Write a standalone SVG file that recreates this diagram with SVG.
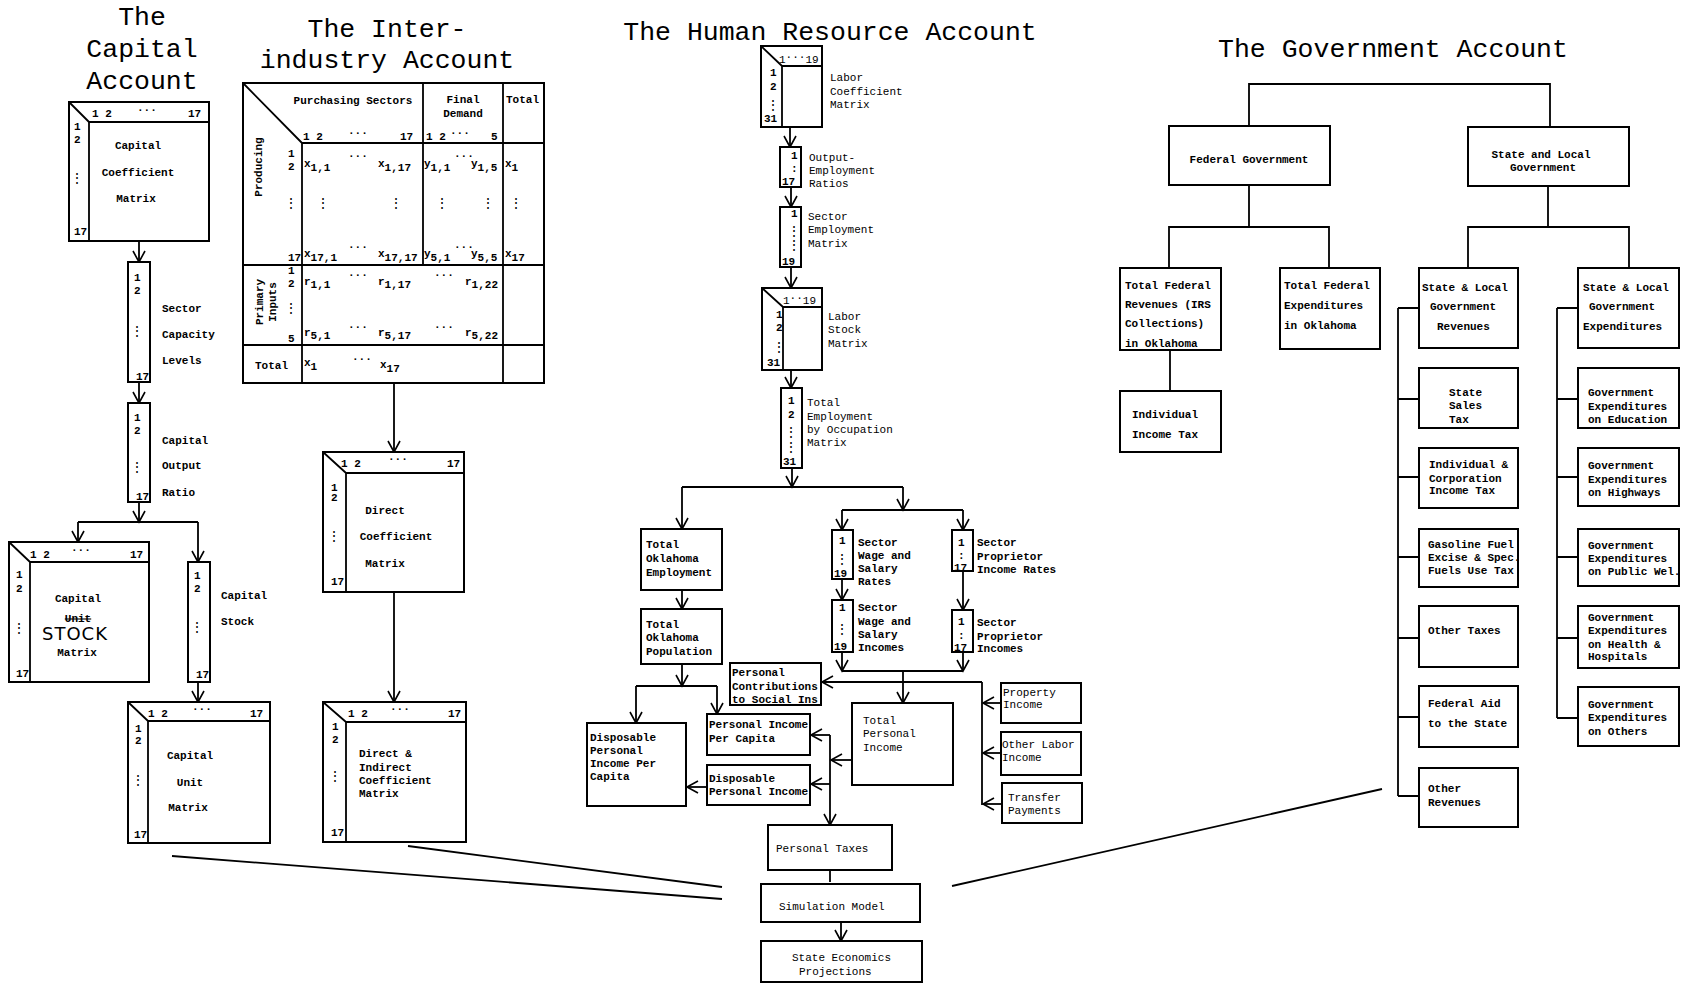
<svg xmlns="http://www.w3.org/2000/svg" width="1688" height="984" viewBox="0 0 1688 984">
<defs>
<marker id="ah" markerWidth="14" markerHeight="14" refX="12" refY="7" orient="auto" markerUnits="userSpaceOnUse" viewBox="0 0 14 14"><path d="M1,1 L12,7 L1,13" fill="none" stroke="#000" stroke-width="1.6"/></marker>
</defs>
<style>
text{font-family:"Liberation Mono","Courier New",monospace;font-size:11px;font-weight:bold;fill:#000}
.r{font-weight:normal}
.ti{font-size:26.5px;font-weight:normal;text-anchor:middle}
.m{text-anchor:middle}
.vd{font-family:"DejaVu Sans Mono",monospace;font-size:14px;font-weight:normal;text-anchor:middle}
.box{fill:#fff;stroke:#000;stroke-width:2}
.ln{fill:none;stroke:#000;stroke-width:1.8}
.ar{fill:none;stroke:#000;stroke-width:1.8;marker-end:url(#ah)}
</style>
<rect width="1688" height="984" fill="#fff"/>

<!-- Titles -->
<g id="titles">
<text class="ti" x="142" y="25">The</text>
<text class="ti" x="142" y="57">Capital</text>
<text class="ti" x="142" y="89">Account</text>
<text class="ti" x="387" y="37">The Inter-</text>
<text class="ti" x="387" y="68">industry Account</text>
<text class="ti" x="830" y="40">The Human Resource Account</text>
<text class="ti" x="1393" y="57">The Government Account</text>
</g>

<!-- Connectors -->
<g id="connectors">
<path class="ar" d="M139,241 V262"/>
<path class="ar" d="M139,382 V403"/>
<path class="ar" d="M139,502 V522"/>
<path class="ln" d="M78,522 H198"/>
<path class="ar" d="M78,522 V542"/>
<path class="ar" d="M198,522 V562"/>
<path class="ar" d="M198,682 V702"/>
<path class="ar" d="M394,383 V452"/>
<path class="ar" d="M394,592 V702"/>
<path class="ar" d="M790,127 V147"/>
<path class="ar" d="M791,187 V207"/>
<path class="ar" d="M791,267 V288"/>
<path class="ar" d="M791,370 V388"/>
<path class="ar" d="M792,468 V487"/>
<path class="ln" d="M682,487 H903"/>
<path class="ar" d="M682,487 V529"/>
<path class="ar" d="M903,487 V510"/>
<path class="ln" d="M842,510 H963"/>
<path class="ar" d="M842,510 V530"/>
<path class="ar" d="M963,510 V530"/>
<path class="ar" d="M682,590 V609"/>
<path class="ar" d="M842,579 V600"/>
<path class="ar" d="M963,571 V610"/>
<path class="ar" d="M842,652 V671"/>
<path class="ar" d="M963,652 V671"/>
<path class="ln" d="M842,671 H963"/>
<path class="ar" d="M903,671 V703"/>
<path class="ln" d="M982,682 V805"/>
<path class="ar" d="M982,682 H822"/>
<path class="ar" d="M1001,703 H983"/>
<path class="ar" d="M1001,753 H983"/>
<path class="ar" d="M1002,804 H983"/>
<path class="ar" d="M682,664 V686"/>
<path class="ln" d="M636,686 H717"/>
<path class="ar" d="M636,686 V723"/>
<path class="ar" d="M717,686 V714"/>
<path class="ar" d="M852,760 H831"/>
<path class="ar" d="M830,735 V825"/>
<path class="ar" d="M830,735 H811"/>
<path class="ar" d="M830,784 H811"/>
<path class="ar" d="M707,787 H687"/>
<path class="ln" d="M830,870 V882"/>
<path class="ar" d="M841,922 V941"/>
<path class="ln" d="M172,856 L722,899"/>
<path class="ln" d="M408,846 L722,887"/>
<path class="ln" d="M1382,789 L952,886"/>
<path class="ln" d="M1249,126 V84 H1550 V127"/>
<path class="ln" d="M1249,185 V227 M1169,268 V227 H1329 V268"/>
<path class="ln" d="M1548,186 V227 M1468,268 V227 H1629 V268"/>
<path class="ln" d="M1170,350 V391"/>
<path class="ln" d="M1398,308 V796 M1398,308 H1419 M1398,399 H1419 M1398,477 H1419 M1398,557 H1419 M1398,638 H1419 M1398,717 H1419 M1398,796 H1419"/>
<path class="ln" d="M1557,308 V718 M1557,308 H1578 M1557,399 H1578 M1557,477 H1578 M1557,557 H1578 M1557,638 H1578 M1557,718 H1578"/>
</g>

<!-- Capital Account -->
<g id="cap-coef">
<rect class="box" x="69" y="102" width="140" height="139"/>
<path class="ln" d="M89,122 V241 M89,122 H209 M69,102 L89,122"/>
<text x="92" y="117">1 2</text><text x="137" y="111">...</text><text x="188" y="117">17</text>
<text x="74" y="130">1</text><text x="74" y="143">2</text><text class="vd" x="77" y="183">⋮</text><text x="74" y="235">17</text>
<text class="m" x="138" y="149">Capital</text><text class="m" x="138" y="176">Coefficient</text><text class="m" x="136" y="202">Matrix</text>
</g>
<g id="cap-capacity">
<rect class="box" x="128" y="262" width="22" height="120"/>
<text x="134" y="281">1</text><text x="134" y="294">2</text><text class="vd" x="137" y="336">⋮</text><text x="136" y="380">17</text>
<text x="162" y="312">Sector</text><text x="162" y="338">Capacity</text><text x="162" y="364">Levels</text>
</g>
<g id="cap-output">
<rect class="box" x="128" y="403" width="22" height="99"/>
<text x="134" y="421">1</text><text x="134" y="434">2</text><text class="vd" x="137" y="472">⋮</text><text x="136" y="500">17</text>
<text x="162" y="444">Capital</text><text x="162" y="469">Output</text><text x="162" y="496">Ratio</text>
</g>
<g id="cap-stock-matrix">
<rect class="box" x="9" y="542" width="140" height="140"/>
<path class="ln" d="M30,562 V682 M30,562 H149 M9,542 L30,562"/>
<text x="30" y="558">1 2</text><text x="71" y="551">...</text><text x="130" y="558">17</text>
<text x="16" y="578">1</text><text x="16" y="592">2</text><text class="vd" x="19" y="633">⋮</text><text x="16" y="677">17</text>
<text class="m" x="78" y="602">Capital</text>
<text class="m" x="78" y="622" style="text-decoration:line-through">Unit</text>
<text class="m" x="75" y="640" style="font-family:'DejaVu Sans',sans-serif;font-size:18px;font-weight:normal;letter-spacing:1px">STOCK</text>
<text class="m" x="77" y="656">Matrix</text>
</g>
<g id="cap-stock">
<rect class="box" x="188" y="562" width="22" height="120"/>
<text x="194" y="579">1</text><text x="194" y="592">2</text><text class="vd" x="197" y="632">⋮</text><text x="196" y="678">17</text>
<text x="221" y="599">Capital</text><text x="221" y="625">Stock</text>
</g>
<g id="cap-unit">
<rect class="box" x="128" y="702" width="142" height="141"/>
<path class="ln" d="M148,721 V843 M148,721 H270 M128,702 L148,721"/>
<text x="148" y="717">1 2</text><text x="192" y="710">...</text><text x="250" y="717">17</text>
<text x="135" y="732">1</text><text x="135" y="744">2</text><text class="vd" x="138" y="785">⋮</text><text x="134" y="838">17</text>
<text class="m" x="190" y="759">Capital</text><text class="m" x="190" y="786">Unit</text><text class="m" x="188" y="811">Matrix</text>
</g>

<!-- Inter-industry Account -->
<g id="io-table">
<rect class="box" x="243" y="83" width="301" height="300"/>
<path class="ln" d="M302,143 V383 M423,83 V265 M503,83 V383 M302,143 H544 M243,265 H544 M243,345 H544 M243,83 L302,143"/>
<text class="m" x="353" y="104">Purchasing Sectors</text>
<text class="m" x="463" y="103">Final</text><text class="m" x="463" y="117">Demand</text>
<text x="506" y="103">Total</text>
<text x="303" y="140">1 2</text><text x="348" y="134">...</text><text x="400" y="140">17</text>
<text x="426" y="140">1 2</text><text x="450" y="134">...</text><text x="491" y="140">5</text>
<text class="m" transform="translate(262,167) rotate(-90)">Producing</text>
<text class="m" transform="translate(263,302) rotate(-90)">Primary</text>
<text class="m" transform="translate(276,302) rotate(-90)">Inputs</text>
<text x="288" y="157">1</text><text x="288" y="170">2</text><text class="vd" x="291" y="208">⋮</text><text x="288" y="261">17</text>
<text x="304" y="167">x<tspan dy="4">1,1</tspan></text><text x="348" y="157">...</text><text x="378" y="167">x<tspan dy="4">1,17</tspan></text>
<text x="424" y="167">y<tspan dy="4">1,1</tspan></text><text x="454" y="157">...</text><text x="471" y="167">y<tspan dy="4">1,5</tspan></text>
<text x="505" y="167">x<tspan dy="4">1</tspan></text>
<text class="vd" x="323" y="208">⋮</text><text class="vd" x="396" y="208">⋮</text><text class="vd" x="442" y="208">⋮</text><text class="vd" x="488" y="208">⋮</text><text class="vd" x="516" y="208">⋮</text>
<text x="304" y="257">x<tspan dy="4">17,1</tspan></text><text x="348" y="248">...</text><text x="378" y="257">x<tspan dy="4">17,17</tspan></text>
<text x="424" y="257">y<tspan dy="4">5,1</tspan></text><text x="454" y="248">...</text><text x="471" y="257">y<tspan dy="4">5,5</tspan></text>
<text x="505" y="257">x<tspan dy="4">17</tspan></text>
<text x="288" y="274">1</text><text x="288" y="287">2</text><text class="vd" x="291" y="313">⋮</text><text x="288" y="342">5</text>
<text x="304" y="285">r<tspan dy="3">1,1</tspan></text><text x="348" y="276">...</text><text x="378" y="285">r<tspan dy="3">1,17</tspan></text>
<text x="434" y="276">...</text><text x="465" y="285">r<tspan dy="3">1,22</tspan></text>
<text x="304" y="336">r<tspan dy="3">5,1</tspan></text><text x="348" y="328">...</text><text x="378" y="336">r<tspan dy="3">5,17</tspan></text>
<text x="434" y="328">...</text><text x="465" y="336">r<tspan dy="3">5,22</tspan></text>
<text x="255" y="369">Total</text>
<text x="304" y="366">x<tspan dy="4">1</tspan></text><text x="352" y="360">...</text><text x="380" y="368">x<tspan dy="4">17</tspan></text>
</g>
<g id="io-direct">
<rect class="box" x="323" y="452" width="141" height="140"/>
<path class="ln" d="M346,473 V592 M346,473 H464 M323,452 L346,473"/>
<text x="341" y="467">1 2</text><text x="388" y="460">...</text><text x="447" y="467">17</text>
<text x="331" y="491">1</text><text x="331" y="501">2</text><text class="vd" x="334" y="541">⋮</text><text x="331" y="585">17</text>
<text class="m" x="385" y="514">Direct</text><text class="m" x="396" y="540">Coefficient</text><text class="m" x="385" y="567">Matrix</text>
</g>
<g id="io-total">
<rect class="box" x="323" y="702" width="143" height="140"/>
<path class="ln" d="M346,722 V842 M346,722 H466 M323,702 L346,722"/>
<text x="348" y="717">1 2</text><text x="390" y="710">...</text><text x="448" y="717">17</text>
<text x="332" y="730">1</text><text x="332" y="743">2</text><text class="vd" x="335" y="781">⋮</text><text x="331" y="836">17</text>
<text x="359" y="757">Direct &amp;</text><text x="359" y="771">Indirect</text><text x="359" y="784">Coefficient</text><text x="359" y="797">Matrix</text>
</g>

<!-- Human Resource Account -->
<g id="hr-labor-coef">
<rect class="box" x="761" y="46" width="61" height="81"/>
<path class="ln" d="M782,66 V127 M782,66 H822 M761,46 L782,66"/>
<text class="r" x="779" y="63">1<tspan dy="-5">...</tspan><tspan dy="5">19</tspan></text>
<text x="770" y="76">1</text><text x="770" y="90">2</text><text class="vd" x="773" y="110">⋮</text><text x="764" y="122">31</text>
<text class="r" x="830" y="81">Labor</text><text class="r" x="830" y="95">Coefficient</text><text class="r" x="830" y="108">Matrix</text>
</g>
<g id="hr-oer">
<rect class="box" x="780" y="147" width="21" height="40"/>
<text x="791" y="159">1</text><text x="791" y="172">:</text><text x="782" y="185">17</text>
<text class="r" x="809" y="161">Output-</text><text class="r" x="809" y="174">Employment</text><text class="r" x="809" y="187">Ratios</text>
</g>
<g id="hr-sem">
<rect class="box" x="780" y="207" width="21" height="60"/>
<text x="791" y="217">1</text><text class="vd" x="794" y="236">⋮</text><text class="vd" x="794" y="250">⋮</text><text x="782" y="265">19</text>
<text class="r" x="808" y="220">Sector</text><text class="r" x="808" y="233">Employment</text><text class="r" x="808" y="247">Matrix</text>
</g>
<g id="hr-labor-stock">
<rect class="box" x="762" y="288" width="60" height="82"/>
<path class="ln" d="M783,307 V370 M783,307 H822 M762,288 L783,307"/>
<text class="r" x="783" y="304">1<tspan dy="-5">..</tspan><tspan dy="5">19</tspan></text>
<text x="776" y="318">1</text><text x="776" y="331">2</text><text class="vd" x="779" y="352">⋮</text><text x="767" y="366">31</text>
<text class="r" x="828" y="320">Labor</text><text class="r" x="828" y="333">Stock</text><text class="r" x="828" y="347">Matrix</text>
</g>
<g id="hr-teo">
<rect class="box" x="781" y="388" width="21" height="80"/>
<text x="788" y="404">1</text><text x="788" y="418">2</text><text class="vd" x="791" y="437">⋮</text><text class="vd" x="791" y="452">⋮</text><text x="783" y="465">31</text>
<text class="r" x="807" y="406">Total</text><text class="r" x="807" y="420">Employment</text><text class="r" x="807" y="433">by Occupation</text><text class="r" x="807" y="446">Matrix</text>
</g>
<g id="hr-employment">
<rect class="box" x="641" y="529" width="81" height="61"/>
<text x="646" y="548">Total</text><text x="646" y="562">Oklahoma</text><text x="646" y="576">Employment</text>
</g>
<g id="hr-population">
<rect class="box" x="641" y="609" width="81" height="55"/>
<text x="646" y="628">Total</text><text x="646" y="641">Oklahoma</text><text x="646" y="655">Population</text>
</g>
<g id="hr-wage-rates">
<rect class="box" x="832" y="530" width="21" height="49"/>
<text x="839" y="544">1</text><text class="vd" x="842" y="564">⋮</text><text x="834" y="577">19</text>
<text x="858" y="546">Sector</text><text x="858" y="559">Wage and</text><text x="858" y="572">Salary</text><text x="858" y="585">Rates</text>
</g>
<g id="hr-wage-incomes">
<rect class="box" x="832" y="600" width="21" height="52"/>
<text x="839" y="611">1</text><text class="vd" x="842" y="634">⋮</text><text x="834" y="650">19</text>
<text x="858" y="611">Sector</text><text x="858" y="625">Wage and</text><text x="858" y="638">Salary</text><text x="858" y="651">Incomes</text>
</g>
<g id="hr-prop-rates">
<rect class="box" x="952" y="530" width="21" height="41"/>
<text x="958" y="546">1</text><text x="958" y="559">:</text><text x="954" y="571">17</text>
<text x="977" y="546">Sector</text><text x="977" y="560">Proprietor</text><text x="977" y="573">Income Rates</text>
</g>
<g id="hr-prop-incomes">
<rect class="box" x="952" y="610" width="21" height="42"/>
<text x="958" y="625">1</text><text x="958" y="639">:</text><text x="954" y="651">17</text>
<text x="977" y="626">Sector</text><text x="977" y="640">Proprietor</text><text x="977" y="652">Incomes</text>
</g>
<g id="hr-contrib">
<rect class="box" x="730" y="663" width="91" height="42"/>
<text x="732" y="676">Personal</text><text x="732" y="690">Contributions</text><text x="732" y="703">to Social Ins</text>
</g>
<g id="hr-dpi-capita">
<rect class="box" x="587" y="723" width="99" height="83"/>
<text x="590" y="741">Disposable</text><text x="590" y="754">Personal</text><text x="590" y="767">Income Per</text><text x="590" y="780">Capita</text>
</g>
<g id="hr-pi-capita">
<rect class="box" x="707" y="714" width="103" height="41"/>
<text x="709" y="728">Personal Income</text><text x="709" y="742">Per Capita</text>
</g>
<g id="hr-dpi">
<rect class="box" x="707" y="765" width="103" height="40"/>
<text x="709" y="782">Disposable</text><text x="709" y="795">Personal Income</text>
</g>
<g id="hr-tpi">
<rect class="box" x="852" y="703" width="101" height="82"/>
<text class="r" x="863" y="724">Total</text><text class="r" x="863" y="737">Personal</text><text class="r" x="863" y="751">Income</text>
</g>
<g id="hr-property">
<rect class="box" x="1001" y="683" width="80" height="40"/>
<text class="r" x="1003" y="696">Property</text><text class="r" x="1003" y="708">Income</text>
</g>
<g id="hr-other-labor">
<rect class="box" x="1001" y="732" width="80" height="43"/>
<text class="r" x="1002" y="748">Other Labor</text><text class="r" x="1002" y="761">Income</text>
</g>
<g id="hr-transfer">
<rect class="box" x="1002" y="783" width="80" height="40"/>
<text class="r" x="1008" y="801">Transfer</text><text class="r" x="1008" y="814">Payments</text>
</g>
<g id="hr-taxes">
<rect class="box" x="768" y="825" width="124" height="45"/>
<text class="r" x="776" y="852">Personal Taxes</text>
</g>
<g id="simulation">
<rect class="box" x="761" y="884" width="159" height="38"/>
<text class="r" x="779" y="910">Simulation Model</text>
</g>
<g id="projections">
<rect class="box" x="761" y="941" width="161" height="41"/>
<text class="r" x="792" y="961">State Economics</text><text class="r" x="799" y="975">Projections</text>
</g>

<!-- Government Account -->
<g id="gov-federal">
<rect class="box" x="1169" y="126" width="161" height="59"/>
<text class="m" x="1249" y="163">Federal Government</text>
</g>
<g id="gov-state-local">
<rect class="box" x="1468" y="127" width="161" height="59"/>
<text class="m" x="1541" y="158">State and Local</text><text class="m" x="1543" y="171">Government</text>
</g>
<g id="gov-fed-rev">
<rect class="box" x="1120" y="268" width="101" height="82"/>
<text x="1125" y="289">Total Federal</text><text x="1125" y="308">Revenues (IRS</text><text x="1125" y="327">Collections)</text><text x="1125" y="347">in Oklahoma</text>
</g>
<g id="gov-fed-exp">
<rect class="box" x="1280" y="268" width="100" height="81"/>
<text x="1284" y="289">Total Federal</text><text x="1284" y="309">Expenditures</text><text x="1284" y="329">in Oklahoma</text>
</g>
<g id="gov-ind-tax">
<rect class="box" x="1120" y="391" width="101" height="61"/>
<text x="1132" y="418">Individual</text><text x="1132" y="438">Income Tax</text>
</g>
<g id="gov-sl-rev">
<rect class="box" x="1419" y="268" width="99" height="80"/>
<text x="1422" y="291">State &amp; Local</text><text x="1430" y="310">Government</text><text x="1437" y="330">Revenues</text>
</g>
<g id="gov-sl-exp">
<rect class="box" x="1578" y="268" width="101" height="80"/>
<text x="1583" y="291">State &amp; Local</text><text x="1589" y="310">Government</text><text x="1583" y="330">Expenditures</text>
</g>
<g id="gov-sales">
<rect class="box" x="1419" y="368" width="99" height="60"/>
<text x="1449" y="396">State</text><text x="1449" y="409">Sales</text><text x="1449" y="423">Tax</text>
</g>
<g id="gov-income-tax">
<rect class="box" x="1419" y="448" width="99" height="60"/>
<text x="1429" y="468">Individual &amp;</text><text x="1429" y="482">Corporation</text><text x="1429" y="494">Income Tax</text>
</g>
<g id="gov-gasoline">
<rect class="box" x="1419" y="529" width="99" height="58"/>
<text x="1428" y="548">Gasoline Fuel</text><text x="1428" y="561">Excise &amp; Spec.</text><text x="1428" y="574">Fuels Use Tax</text>
</g>
<g id="gov-other-taxes">
<rect class="box" x="1419" y="606" width="99" height="61"/>
<text x="1428" y="634">Other Taxes</text>
</g>
<g id="gov-fed-aid">
<rect class="box" x="1419" y="686" width="99" height="61"/>
<text x="1428" y="707">Federal Aid</text><text x="1428" y="727">to the State</text>
</g>
<g id="gov-other-rev">
<rect class="box" x="1419" y="768" width="99" height="59"/>
<text x="1428" y="792">Other</text><text x="1428" y="806">Revenues</text>
</g>
<g id="gov-education">
<rect class="box" x="1578" y="368" width="101" height="60"/>
<text x="1588" y="396">Government</text><text x="1588" y="410">Expenditures</text><text x="1588" y="423">on Education</text>
</g>
<g id="gov-highways">
<rect class="box" x="1578" y="448" width="101" height="58"/>
<text x="1588" y="469">Government</text><text x="1588" y="483">Expenditures</text><text x="1588" y="496">on Highways</text>
</g>
<g id="gov-welfare">
<rect class="box" x="1578" y="529" width="101" height="57"/>
<text x="1588" y="549">Government</text><text x="1588" y="562">Expenditures</text><text x="1588" y="575">on Public Wel.</text>
</g>
<g id="gov-health">
<rect class="box" x="1578" y="606" width="101" height="62"/>
<text x="1588" y="621">Government</text><text x="1588" y="634">Expenditures</text><text x="1588" y="648">on Health &amp;</text><text x="1588" y="660">Hospitals</text>
</g>
<g id="gov-others">
<rect class="box" x="1578" y="687" width="101" height="59"/>
<text x="1588" y="708">Government</text><text x="1588" y="721">Expenditures</text><text x="1588" y="735">on Others</text>
</g>
</svg>
